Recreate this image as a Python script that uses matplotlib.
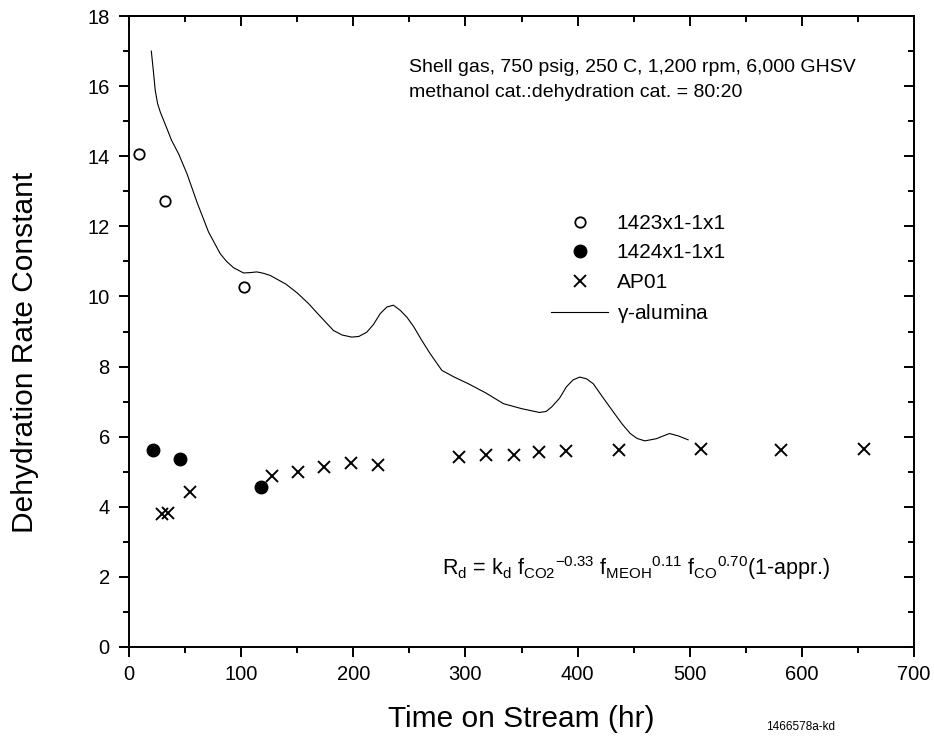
import numpy as np
import matplotlib
matplotlib.use("Agg")
import matplotlib.pyplot as plt
from matplotlib.ticker import MultipleLocator

## Fonts (Arial look-alike)
plt.rcParams['font.family'] = ['Liberation Sans', 'DejaVu Sans']
plt.rcParams['mathtext.default'] = 'regular'

## Data
x_1423 = [9.2, 31.7, 102.5]
y_1423 = [14.07, 12.71, 10.27]

x_1424 = [21.0, 45.1, 117.6]
y_1424 = [5.61, 5.37, 4.56]

x_ap01 = [29.4, 34.7, 54.6, 127.4, 150.6, 174.3, 197.8, 222.4, 294.6, 318.4,
          343.3, 365.9, 389.4, 436.9, 509.7, 581.8, 655.2]
y_ap01 = [3.78, 3.83, 4.42, 4.88, 4.99, 5.13, 5.26, 5.18, 5.42, 5.49,
          5.49, 5.56, 5.58, 5.61, 5.64, 5.61, 5.64]

x_gamma = [19.9, 21.5, 23.4, 25.5, 27.9, 33.8, 38.0, 44.2, 51.7, 60.6, 70.9, 81.3,
           87.0, 93.2, 102.1, 108.0, 114.0, 120.0, 125.9, 140.0, 150.0, 160.0,
           170.0, 182.3, 190.0, 198.7, 205.0, 212.0, 218.0, 224.0, 230.0, 235.8,
           242.0, 248.0, 254.0, 261.0, 268.5, 279.0, 290.0, 302.6, 318.0, 334.0,
           350.0, 366.0, 372.0, 377.0, 384.0, 390.0, 396.0, 402.0, 408.0, 414.0,
           423.0, 432.0, 440.0, 447.0, 453.0, 460.0, 470.0, 482.0, 490.0, 498.6]
y_gamma = [17.0, 16.5, 15.88, 15.5, 15.26, 14.79, 14.45, 14.07, 13.5, 12.69, 11.84, 11.22,
           11.0, 10.82, 10.67, 10.68, 10.70, 10.66, 10.6, 10.35, 10.1, 9.8,
           9.45, 9.03, 8.9, 8.84, 8.86, 8.98, 9.2, 9.51, 9.7, 9.75,
           9.6, 9.4, 9.13, 8.75, 8.37, 7.89, 7.7, 7.51, 7.25, 6.94,
           6.8, 6.69, 6.72, 6.85, 7.1, 7.42, 7.62, 7.70, 7.65, 7.51,
           7.1, 6.70, 6.35, 6.09, 5.95, 5.88, 5.94, 6.09, 6.02, 5.91]

labels = ['1423x1-1x1', '1424x1-1x1', 'AP01', r'$\gamma$-alumina']


fig = plt.figure(figsize=(9.34, 7.38), dpi=100)
ax = fig.add_axes([129/934, 1-647/738, 785/934, 631/738])

ax.plot(x_1423, y_1423, 'o', mfc='white', mec='black', ms=7.5, mew=1.3, ls='none', label=labels[0])
ax.plot(x_1424, y_1424, 'o', color='black', ms=9, ls='none', label=labels[1])
ax.plot(x_ap01, y_ap01, 'x', color='black', ms=9, mew=1.4, ls='none', label=labels[2])
ax.plot(x_gamma, y_gamma, '-', color='black', lw=0.8, label=labels[3])

ax.set_xlim(0, 700)
ax.set_ylim(0, 18)
ax.xaxis.set_major_locator(MultipleLocator(100))
ax.xaxis.set_minor_locator(MultipleLocator(50))
ax.yaxis.set_major_locator(MultipleLocator(2))
ax.yaxis.set_minor_locator(MultipleLocator(1))

for s in ax.spines.values():
    s.set_linewidth(1.4)
ax.tick_params(which='both', direction='out', width=1.4, labelsize=14.5,
               top=False, right=False)
ax.tick_params(which='major', length=7.5)
ax.tick_params(which='minor', length=4.5)
ax.tick_params(axis='x', which='major', pad=5.5)
ax.tick_params(axis='y', which='major', pad=6.3)

## inward ticks on the right / top like the original
ax_r = ax.secondary_yaxis('right')
ax_r.yaxis.set_major_locator(MultipleLocator(2))
ax_r.yaxis.set_minor_locator(MultipleLocator(1))
ax_r.tick_params(which='both', direction='in', width=1.4, labelright=False)
ax_r.tick_params(which='major', length=7.5)
ax_r.tick_params(which='minor', length=4.5)
ax_r.spines['right'].set_linewidth(1.4)
ax_t = ax.secondary_xaxis('top')
ax_t.xaxis.set_major_locator(MultipleLocator(100))
ax_t.xaxis.set_minor_locator(MultipleLocator(50))
ax_t.tick_params(which='both', direction='in', width=1.4, labeltop=False)
ax_t.tick_params(which='major', length=7.5)
ax_t.tick_params(which='minor', length=4.5)
ax_t.spines['top'].set_linewidth(1.4)

## axis titles placed where the original has them
fig.text(521.5/934, 1-727/738, 'Time on Stream (hr)', fontsize=21.5,
         ha='center', va='baseline')
fig.text(25/934, 1-352/738, 'Dehydration Rate Constant', fontsize=21.5,
         rotation=90, ha='center', va='center')

ax.legend(loc='upper left', bbox_to_anchor=((551-129)/785, (647-214)/631),
          frameon=False, fontsize=15, handlelength=2.75, handletextpad=0.4,
          labelspacing=0.5, borderpad=0, borderaxespad=0)

ax.text((409-129)/785, (647-72.3)/631, 'Shell gas, 750 psig, 250 C, 1,200 rpm, 6,000 GHSV',
        transform=ax.transAxes, fontsize=14, va='baseline', ha='left')
ax.text((409-129)/785, (647-96.7)/631, 'methanol cat.:dehydration cat. = 80:20',
        transform=ax.transAxes, fontsize=14, va='baseline', ha='left')

ax.text((442-129)/785, (647-575)/631,
        r'R$_{d}$ = k$_{d}$ f$_{CO2}$$^{-0.33}$ f$_{MEOH}$$^{0.11}$ f$_{CO}$$^{0.70}$(1-appr.)',
        transform=ax.transAxes, fontsize=15.5, va='baseline', ha='left')

fig.text(835/934, 1-727/738, '1466578a-kd', fontsize=8.5, ha='right', va='center')

fig.savefig('out.png', dpi=100)
